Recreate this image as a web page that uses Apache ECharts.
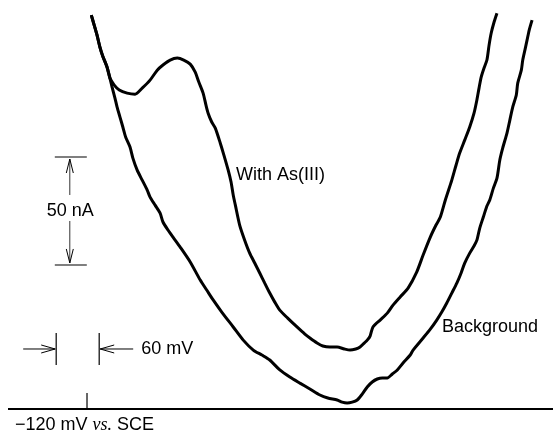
<!DOCTYPE html>
<html>
<head>
<meta charset="utf-8">
<script src="https://cdn.jsdelivr.net/npm/echarts@6/dist/echarts.min.js"></script>
<style>
html,body{margin:0;padding:0;background:#fff;}
#c{width:553px;height:433px;}
</style>
</head>
<body>
<div id="c"></div>
<script>
// Potential (mV vs. SCE) and current (nA) values
const withAsPotential = [-114,-110,-106,-102,-98,-92,-88,-82,-75,-64,-53,-43,-32,-22,-14,-4,6,15,24,31,36,42,46,49,54,59,66,71,77,81,84,87,93,100,107,114,121,128,135,142,149,160,173,184,191,201,209,219,229,239,247,255,261,267,271,275,279,289,299,307,317,328,340,349,359,367,373,380,389,395,400,407,414,420,424,427,430,434,438,441,444,448,452];
const withAsCurrent = [182.4,177.8,173.1,167.6,163.4,158.3,153.2,150.0,147.7,146.3,145.8,148.6,152.3,156.9,159.3,161.6,162.5,161.6,159.7,156.0,151.4,146.3,140.7,137.0,132.9,130.1,123.1,117.6,110.6,105.1,99.1,94.4,85.2,78.2,72.2,67.6,63.0,58.3,53.7,49.5,45.8,42.1,38.0,34.7,32.9,30.6,29.2,28.7,28.7,27.8,27.3,27.8,28.7,30.6,31.9,33.8,38.0,41.2,44.4,48.1,51.9,56.0,63.4,71.3,79.6,85.2,88.9,96.8,106.0,113.0,118.5,124.5,130.6,137.0,143.1,148.6,153.7,157.9,161.6,168.5,174.1,179.2,183.3];

const backgroundPotential = [-114,-110,-106,-102,-98,-92,-89,-85,-81,-78,-74,-70,-66,-60,-56,-50,-43,-36,-32,-25,-18,-14,-7,0,10,24,38,47,56,68,84,98,112,124,135,149,163,177,191,205,216,229,236,243,250,257,264,271,278,285,292,299,306,313,321,331,335,349,359,368,375,382,389,396,402,407,414,420,424,428,433,438,442,447,452,456,460,466,470,474,479,481,486,488,491,494,497,501];
const backgroundCurrent = [182.4,177.8,173.1,167.6,163.4,158.3,154.6,149.1,144.0,139.8,135.2,130.6,125.9,121.3,116.2,110.6,106.0,101.4,98.1,94.4,90.7,86.6,82.9,79.6,75.0,68.1,59.7,55.1,50.5,44.9,38.0,31.9,27.3,25.0,22.7,18.1,14.8,12.0,9.3,6.5,5.1,4.2,3.2,2.8,3.2,4.2,6.9,10.2,12.5,13.9,14.4,14.4,16.2,18.1,21.3,25.0,27.3,32.9,37.0,41.2,44.9,49.1,53.7,58.3,63.0,67.6,72.2,75.5,78.2,83.8,88.9,94.0,96.8,102.3,106.9,115.3,120.8,127.8,133.8,139.8,145.4,150.9,156.9,161.6,166.2,170.8,175.5,180.1];

// Annotation values (data units)
const markerPotential = -120;          // mV vs. SCE
const potentialScale = [-163, -103];   // 60 mV bar
const currentScale = [116.7, 66.7];    // 50 nA bar
const currentScaleX = -144;            // mV position of the 50 nA bar
const potentialScaleY = 27.8;          // nA position of the 60 mV bar

const zip = (xs, ys) => xs.map((x, i) => [x, ys[i]]);

const chart = echarts.init(document.getElementById('c'), null, {renderer: 'canvas'});
chart.setOption({
  animation: false,
  backgroundColor: '#fff',
  grid: {left: 0, right: 0, top: 0, bottom: 0},
  xAxis: {type: 'value', min: -241.4, max: 530.2, show: false},
  yAxis: {type: 'value', min: -11.1, max: 189.4, show: false},
  series: [
    {name: 'With As(III)', type: 'line', data: zip(withAsPotential, withAsCurrent),
     showSymbol: false, smooth: 0.25, lineStyle: {color: '#000', width: 3}},
    {name: 'Background', type: 'line', data: zip(backgroundPotential, backgroundCurrent),
     showSymbol: false, smooth: 0.25, lineStyle: {color: '#000', width: 3}}
  ]
});

const P = (x, y) => chart.convertToPixel({gridIndex: 0}, [x, y]);
const font = '"Liberation Sans", Arial, Helvetica, sans-serif';
const line = (x1, y1, x2, y2, w, c) => ({type: 'line', shape: {x1, y1, x2, y2},
  style: {stroke: c || '#000', lineWidth: w || 1}, z: 10});
const head = (pts) => ({type: 'polyline', shape: {points: pts},
  style: {stroke: '#000', lineWidth: 1, fill: null}, z: 10});
const text = (x, y, t, align) => ({type: 'text', x, y, z: 10,
  style: {text: t, font: '18px ' + font, fill: '#000', textAlign: align || 'left', textVerticalAlign: 'middle'}});

const g = [];
// baseline and potential marker
const b0 = P(0, 0);
g.push(line(8, b0[1], 553, b0[1], 2));
const m = P(markerPotential, 0);
g.push(line(m[0], m[1] - 16, m[0], m[1], 1.2));
g.push({type: 'text', x: 15, y: m[1] + 16, z: 10, style: {
  rich: {
    a: {font: '18px ' + font, fill: '#000'},
    b: {font: 'italic 18px "Liberation Serif", "Times New Roman", serif', fill: '#000'}
  },
  text: '{a|\u2212120 mV }{b|vs.}{a| SCE}', textVerticalAlign: 'middle'
}});

// 50 nA scale
const ct = P(currentScaleX, currentScale[0]);
const cb = P(currentScaleX, currentScale[1]);
g.push(line(ct[0] - 15, ct[1], ct[0] + 17, ct[1], 1.2));
g.push(line(cb[0] - 15, cb[1], cb[0] + 17, cb[1], 1.2));
const cx = ct[0];
const cmid = (ct[1] + cb[1]) / 2;
g.push(line(cx, ct[1] + 2, cx, cmid - 16, 1, '#333'));
g.push(head([[cx - 3.5, ct[1] + 16], [cx, ct[1] + 2], [cx + 3.5, ct[1] + 16]]));
g.push(line(cx, cmid + 10, cx, cb[1] - 2, 1, '#333'));
g.push(head([[cx - 3.5, cb[1] - 16], [cx, cb[1] - 2], [cx + 3.5, cb[1] - 16]]));
g.push(text(cx - 23, cmid, '50 nA'));

// 60 mV scale
const pl = P(potentialScale[0], potentialScaleY);
const pr = P(potentialScale[1], potentialScaleY);
const py = pl[1];
g.push(line(pl[0], py - 16, pl[0], py + 16, 1.2));
g.push(line(pr[0], py - 16, pr[0], py + 16, 1.2));
g.push(line(pl[0] - 33, py, pl[0] - 1, py, 1));
g.push(head([[pl[0] - 15, py - 4], [pl[0] - 1, py], [pl[0] - 15, py + 4]]));
g.push(line(pr[0] + 1, py, pr[0] + 34, py, 1));
g.push(head([[pr[0] + 15, py - 4], [pr[0] + 1, py], [pr[0] + 15, py + 4]]));
g.push(text(pr[0] + 42, py, '60 mV'));

// curve labels
g.push(text(236, 175, 'With As(III)'));
g.push(text(442, 327, 'Background'));

chart.setOption({graphic: g});
</script>
</body>
</html>
